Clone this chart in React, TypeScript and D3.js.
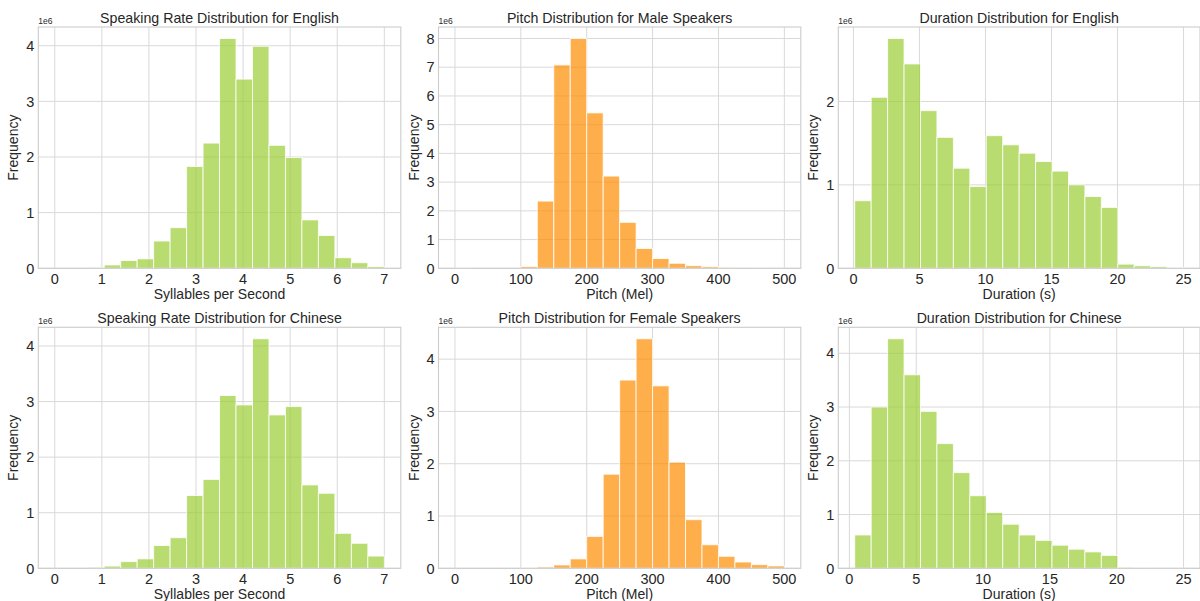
import React from "react";
import * as d3 from "d3";

// Bin counts in millions (20 bins each)
const speakingEnglish = [0, 0, 0.01, 0.06, 0.14, 0.17, 0.49, 0.73, 1.83, 2.25, 4.13, 3.40, 3.99, 2.21, 1.99, 0.87, 0.59, 0.19, 0.10, 0.03];
const speakingChinese = [0, 0, 0.02, 0.04, 0.12, 0.17, 0.41, 0.55, 1.31, 1.60, 3.11, 2.94, 4.13, 2.76, 2.91, 1.50, 1.35, 0.63, 0.45, 0.22];
const pitchMale = [0.01, 0, 0, 0, 0.06, 2.34, 7.08, 8.0, 5.41, 3.21, 1.60, 0.69, 0.34, 0.175, 0.09, 0.055, 0.03, 0.012, 0.006, 0.003];
const pitchFemale = [0, 0, 0, 0, 0.005, 0.025, 0.064, 0.18, 0.61, 1.80, 3.60, 4.39, 3.49, 2.03, 0.93, 0.45, 0.23, 0.12, 0.07, 0.045];
const durationEnglish = [0.81, 2.05, 2.755, 2.45, 1.89, 1.57, 1.20, 0.98, 1.59, 1.48, 1.38, 1.28, 1.165, 1.0, 0.86, 0.73, 0.05, 0.03, 0.02, 0.01];
const durationChinese = [0.62, 3.0, 4.27, 3.6, 2.92, 2.32, 1.78, 1.35, 1.04, 0.82, 0.62, 0.52, 0.43, 0.355, 0.305, 0.24, 0.02, 0.004, 0.002, 0.001];

const speakingRange = [0, 7];
const pitchRange = [0, 500];
const durationEnglishRange = [0.1, 25];
const durationChineseRange = [0.4, 25];

const speakingTicks = [0, 1, 2, 3, 4, 5, 6, 7];
const pitchTicks = [0, 100, 200, 300, 400, 500];
const durationTicks = [0, 5, 10, 15, 20, 25];

const GREEN = "#9ACD32";
const ORANGE = "#FF8C00";
const FONT = "'Liberation Sans', Arial, Helvetica, sans-serif";
const TEXT = "#262626";
const GRID = "#d9d9d9";

type Panel = {
  title: string;
  xlabel: string;
  counts: number[];
  range: number[];
  xticks: number[];
  yticks: number[];
  color: string;
  x0: number; x1: number; y0: number; y1: number;
};

const colsX = [[38.3, 400.8], [438.5, 800.8], [838.3, 1200]];
const rowsY = [[27, 268.3], [327.3, 568.3]];

const panels: Panel[] = [
  { title: "Speaking Rate Distribution for English", xlabel: "Syllables per Second", counts: speakingEnglish, range: speakingRange, xticks: speakingTicks, yticks: [0, 1, 2, 3, 4], color: GREEN, x0: colsX[0][0], x1: colsX[0][1], y0: rowsY[0][0], y1: rowsY[0][1] },
  { title: "Pitch Distribution for Male Speakers", xlabel: "Pitch (Mel)", counts: pitchMale, range: pitchRange, xticks: pitchTicks, yticks: [0, 1, 2, 3, 4, 5, 6, 7, 8], color: ORANGE, x0: colsX[1][0], x1: colsX[1][1], y0: rowsY[0][0], y1: rowsY[0][1] },
  { title: "Duration Distribution for English", xlabel: "Duration (s)", counts: durationEnglish, range: durationEnglishRange, xticks: durationTicks, yticks: [0, 1, 2], color: GREEN, x0: colsX[2][0], x1: colsX[2][1], y0: rowsY[0][0], y1: rowsY[0][1] },
  { title: "Speaking Rate Distribution for Chinese", xlabel: "Syllables per Second", counts: speakingChinese, range: speakingRange, xticks: speakingTicks, yticks: [0, 1, 2, 3, 4], color: GREEN, x0: colsX[0][0], x1: colsX[0][1], y0: rowsY[1][0], y1: rowsY[1][1] },
  { title: "Pitch Distribution for Female Speakers", xlabel: "Pitch (Mel)", counts: pitchFemale, range: pitchRange, xticks: pitchTicks, yticks: [0, 1, 2, 3, 4], color: ORANGE, x0: colsX[1][0], x1: colsX[1][1], y0: rowsY[1][0], y1: rowsY[1][1] },
  { title: "Duration Distribution for Chinese", xlabel: "Duration (s)", counts: durationChinese, range: durationChineseRange, xticks: durationTicks, yticks: [0, 1, 2, 3, 4], color: GREEN, x0: colsX[2][0], x1: colsX[2][1], y0: rowsY[1][0], y1: rowsY[1][1] },
];

function HistPanel({ p }: { p: Panel }) {
  const [lo, hi] = p.range;
  const span = hi - lo;
  const n = p.counts.length;
  const w = span / n;
  const x = d3.scaleLinear().domain([lo - 0.05 * span, hi + 0.05 * span]).range([p.x0, p.x1]);
  const ymax = (d3.max(p.counts) ?? 1) * 1.05;
  const y = d3.scaleLinear().domain([0, ymax]).range([p.y1, p.y0]);
  const cx = (p.x0 + p.x1) / 2;
  return (
    <g>
      <rect x={p.x0} y={p.y0} width={p.x1 - p.x0} height={p.y1 - p.y0} fill="white" />
      {p.xticks.map((t) => (
        <line key={"gx" + t} x1={x(t)} x2={x(t)} y1={p.y0} y2={p.y1} stroke={GRID} strokeWidth={1} />
      ))}
      {p.yticks.map((t) => (
        <line key={"gy" + t} x1={p.x0} x2={p.x1} y1={y(t)} y2={y(t)} stroke={GRID} strokeWidth={1} />
      ))}
      {p.counts.map((c, i) => {
        const a = lo + i * w;
        const b = a + w;
        if (c <= 0) return null;
        return (
          <rect
            key={"b" + i}
            x={x(a)}
            y={y(c)}
            width={x(b) - x(a)}
            height={y(0) - y(c)}
            fill={p.color}
            fillOpacity={0.7}
            stroke="white"
            strokeOpacity={0.8}
            strokeWidth={1}
          />
        );
      })}
      <rect x={p.x0} y={p.y0} width={p.x1 - p.x0} height={p.y1 - p.y0} fill="none" stroke="#cccccc" strokeWidth={1.1} />
      {p.xticks.map((t) => (
        <text key={"tx" + t} x={x(t)} y={p.y1 + 16} textAnchor="middle" fontSize={14.5} fill={TEXT} fontFamily={FONT}>{t}</text>
      ))}
      {p.yticks.map((t) => (
        <text key={"ty" + t} x={p.x0 - 4} y={y(t) + 5.2} textAnchor="end" fontSize={14.5} fill={TEXT} fontFamily={FONT}>{t}</text>
      ))}
      <text x={p.x0} y={p.y0 - 3} fontSize={8.5} fill={TEXT} fontFamily={FONT}>1e6</text>
      <text x={cx} y={p.y0 - 4} textAnchor="middle" fontSize={14.2} fill={TEXT} fontFamily={FONT}>{p.title}</text>
      <text x={cx} y={p.y1 + 31} textAnchor="middle" fontSize={14} fill={TEXT} fontFamily={FONT}>{p.xlabel}</text>
      <text transform={`translate(${p.x0 - 20},${(p.y0 + p.y1) / 2}) rotate(-90)`} textAnchor="middle" fontSize={14} fill={TEXT} fontFamily={FONT}>Frequency</text>
    </g>
  );
}

export default function App() {
  return (
    <svg width={1200} height={601} style={{ position: "absolute", left: 0, top: 0, background: "white" }}>
      <rect width={1200} height={601} fill="white" />
      {panels.map((p, i) => (
        <HistPanel key={i} p={p} />
      ))}
    </svg>
  );
}
